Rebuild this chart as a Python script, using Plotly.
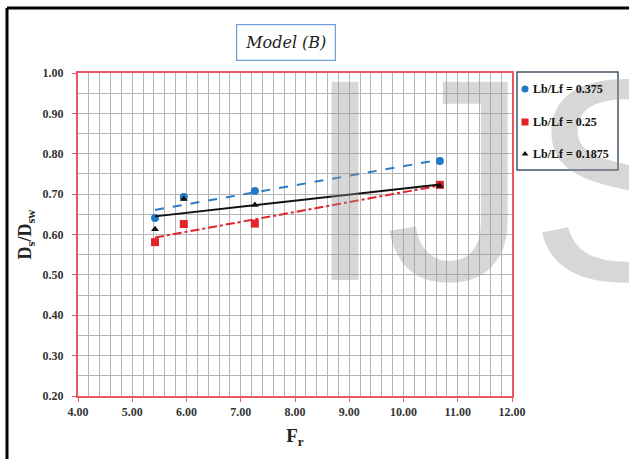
import numpy as np
import plotly.graph_objects as go

# Froude number at each test
fr_values = [5.42, 5.95, 7.26, 10.67]

# Relative scour depth for each Lb/Lf ratio
ds_0375 = [0.641, 0.693, 0.708, 0.782]
ds_025 = [0.581, 0.626, 0.627, 0.723]
ds_01875 = [0.613, 0.688, 0.673, 0.720]

series_names = ["Lb/Lf = 0.375", "Lb/Lf = 0.25", "Lb/Lf = 0.1875"]
x_ticks = [4, 5, 6, 7, 8, 9, 10, 11, 12]
y_ticks = [0.2, 0.3, 0.4, 0.5, 0.6, 0.7, 0.8, 0.9, 1.0]

styles = [
    dict(color="#1f78c8", symbol="circle", size=8, dash="dash", lcolor="#2b7bc4"),
    dict(color="#e3222a", symbol="square", size=8, dash="dashdot", lcolor="#e3222a"),
    dict(color="#111111", symbol="triangle-up", size=7, dash="solid", lcolor="#111111"),
]

W, H = 629, 459
L, R, T, B = 78, 5, 73, 63
pw, ph = W - L - R, H - T - B
PLOT_RIGHT = 512          # right edge of the data area in pixels
LEG_X0, LEG_X1, LEG_Y0, LEG_Y1 = 517, 618, 72, 170
LEG_ROWS = [89, 122, 154]
LEG_MARK_X = 525
LEG_TEXT_X = 531


def px(xp):
    return (xp - L) / pw


def py(yp):
    return (H - B - yp) / ph


fig = go.Figure()

for name, ys, st in zip(series_names, [ds_0375, ds_025, ds_01875], styles):
    x = np.array(fr_values)
    y = np.array(ys)
    slope, icpt = np.polyfit(x, y, 1)
    xf = np.array([x.min(), x.max()])
    fig.add_trace(go.Scatter(
        x=xf, y=slope * xf + icpt, mode="lines",
        line=dict(color=st["lcolor"], width=2, dash=st["dash"]),
        showlegend=False, hoverinfo="skip",
    ))
    fig.add_trace(go.Scatter(
        x=x, y=y, mode="markers", name=name, showlegend=False,
        marker=dict(color=st["color"], symbol=st["symbol"], size=st["size"]),
    ))

# Legend keys drawn on a hidden helper axis laid over the legend box (pixel units)
for row, st in zip(LEG_ROWS, styles):
    fig.add_trace(go.Scatter(
        x=[LEG_MARK_X], y=[row], mode="markers", xaxis="x2", yaxis="y2",
        marker=dict(color=st["color"], symbol=st["symbol"], size=st["size"] - 1),
        showlegend=False, hoverinfo="skip",
    ))

tick_font = dict(family="Liberation Serif", size=12, color="#333333", weight="bold")
grid_col = "#b4b4b4"
axis_col = "#e8585c"

fig.update_layout(
    xaxis=dict(
        domain=[0, px(PLOT_RIGHT)],
        range=[4, 12], tickvals=x_ticks, ticktext=[f"{v:.2f}" for v in x_ticks],
        showgrid=True, gridcolor=grid_col, gridwidth=1,
        minor=dict(dtick=0.2, showgrid=True, gridcolor=grid_col, gridwidth=1),
        showline=True, linecolor=axis_col, linewidth=2, mirror=True,
        ticks="outside", ticklen=4, tickcolor=axis_col,
        tickfont=tick_font, zeroline=False,
        title=dict(text="F<sub>r</sub>", font=dict(family="Liberation Serif", size=19,
                                                      color="#222222", weight="bold"), standoff=10),
    ),
    yaxis=dict(
        domain=[0, 1],
        range=[0.2, 1.0], tickvals=y_ticks, ticktext=[f"{v:.2f}" for v in y_ticks],
        showgrid=True, gridcolor=grid_col, gridwidth=1,
        minor=dict(dtick=0.05, showgrid=True, gridcolor=grid_col, gridwidth=1),
        showline=True, linecolor=axis_col, linewidth=2, mirror=True,
        ticks="outside", ticklen=4, tickcolor=axis_col, ticklabelstandoff=6,
        tickfont=tick_font, zeroline=False,
        title=dict(text="D<sub>s</sub>/D<sub>sw</sub>", font=dict(family="Liberation Serif", size=18,
                                                                     color="#222222", weight="bold"), standoff=6),
    ),
    xaxis2=dict(domain=[px(LEG_X0), px(LEG_X1)], range=[LEG_X0, LEG_X1], visible=False,
                anchor="y2", fixedrange=True),
    yaxis2=dict(domain=[py(LEG_Y1), 1.0], range=[LEG_Y1, H - B - ph], visible=False,
                anchor="x2", fixedrange=True),
    width=W, height=H,
    margin=dict(l=L, r=R, t=T, b=B, autoexpand=False),
    paper_bgcolor="white", plot_bgcolor="white",
    showlegend=False,
)

annotations = [
    dict(text="Model (B)", xref="paper", yref="paper", x=px(286), y=py(42),
         xanchor="center", yanchor="middle", showarrow=False,
         font=dict(family="DejaVu Serif", size=16, color="#222222", style="italic"),
         bordercolor="#6e9fd8", borderwidth=1.2, borderpad=8, bgcolor="white"),
    dict(text="IJS", xref="paper", yref="paper", x=px(303), y=py(180),
         xanchor="left", yanchor="middle", showarrow=False,
         font=dict(family="Liberation Sans", size=288, color="rgba(150,150,150,0.38)")),
]
for row, name in zip(LEG_ROWS, series_names):
    annotations.append(dict(
        text=name, xref="paper", yref="paper", x=px(LEG_TEXT_X), y=py(row),
        xanchor="left", yanchor="middle", showarrow=False,
        font=dict(family="Liberation Serif", size=12, color="#111111", weight="bold"),
    ))

fig.update_layout(
    annotations=annotations,
    shapes=[
        dict(type="rect", xref="paper", yref="paper", x0=px(LEG_X0), x1=px(LEG_X1),
             y0=py(LEG_Y1), y1=py(LEG_Y0), line=dict(color="#44546a", width=1.5)),
        dict(type="line", xref="paper", yref="paper", x0=px(7), x1=px(640), y0=py(8), y1=py(8),
             line=dict(color="black", width=3)),
        dict(type="line", xref="paper", yref="paper", x0=px(7), x1=px(7), y0=py(8), y1=py(470),
             line=dict(color="black", width=3)),
    ],
)

fig.write_html("out.html")
